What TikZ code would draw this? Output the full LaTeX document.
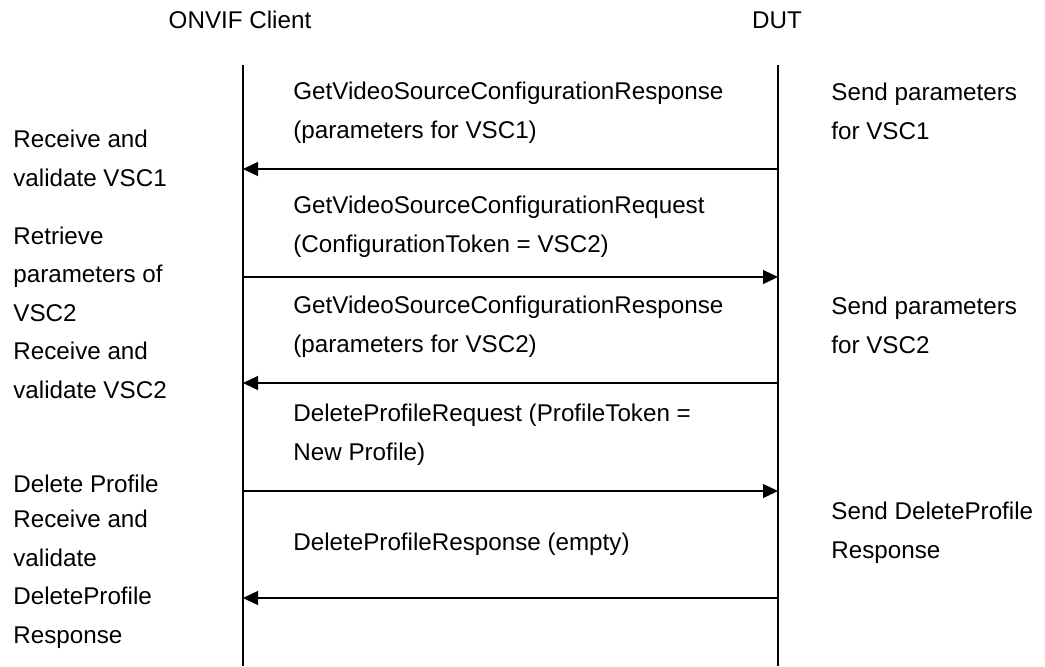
\documentclass[tikz,border=0pt]{standalone}
\usepackage{fontspec}
\setmainfont{Liberation Sans}
\usetikzlibrary{arrows.meta}
\begin{document}
\begin{tikzpicture}[x=0.5pt,y=-0.5pt,
    txt/.style={anchor=base west,inner sep=0pt,align=left,font=\fontsize{12.1}{19.25}\selectfont},
    life/.style={line width=0.6pt},
    msg/.style={line width=0.65pt,-{Triangle[length=7.5pt,width=7pt]}}]
    \useasboundingbox (0,0) rectangle (1045,666);
    % lifelines
    \node[txt,anchor=base] (client) at (240,28) {ONVIF Client};
    \node[txt,anchor=base] (dut) at (777,28) {DUT};
    \coordinate (clienttop) at (243,65);
    \coordinate (clientbot) at (243,666);
    \coordinate (duttop) at (778,65);
    \coordinate (dutbot) at (778,666);
    \draw[life] (clienttop)--(clientbot);
    \draw[life] (duttop)--(dutbot);
    \foreach \n/\y in {1/169,2/277,3/383,4/491,5/598}{
    \coordinate (c\n) at (243,\y);
    \coordinate (d\n) at (778,\y);}
    % messages (text anchored on the baseline of its last line)
    \draw[msg] (d1)--(c1);
    \draw[msg] (c2)--(d2);
    \draw[msg] (d3)--(c3);
    \draw[msg] (c4)--(d4);
    \draw[msg] (d5)--(c5);
    \node[txt] (m1) at (293,138) {GetVideoSourceConfigurationResponse\\(parameters for VSC1)};
    \node[txt] (m2) at (293,252) {GetVideoSourceConfigurationRequest\\(ConfigurationToken = VSC2)};
    \node[txt] (m3) at (293,352) {GetVideoSourceConfigurationResponse\\(parameters for VSC2)};
    \node[txt] (m4) at (293,460) {DeleteProfileRequest (ProfileToken =\\New Profile)};
    \node[txt] (m5) at (293,550) {DeleteProfileResponse (empty)};
    % client side notes
    \node[txt] (l1) at (13,186) {Receive and\\validate VSC1};
    \node[txt] (l2) at (13,321) {Retrieve\\parameters of\\VSC2};
    \node[txt] (l3) at (13,398) {Receive and\\validate VSC2};
    \node[txt] (l4) at (13,492) {Delete Profile};
    \node[txt] (l5) at (13,643) {Receive and\\validate\\DeleteProfile\\Response};
    % DUT side notes
    \node[txt] (r1) at (831,139) {Send parameters\\for VSC1};
    \node[txt] (r2) at (831,353) {Send parameters\\for VSC2};
    \node[txt] (r3) at (831,558) {Send DeleteProfile\\Response};
\end{tikzpicture}
\end{document}
